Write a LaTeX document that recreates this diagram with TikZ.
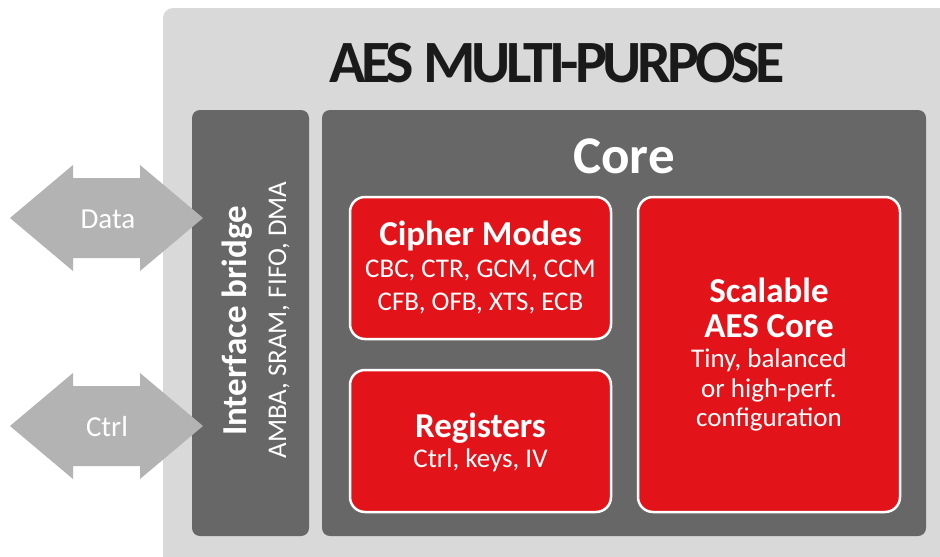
\documentclass[tikz,border=0pt]{standalone}
\usepackage{fontspec}
\setmainfont{Carlito}
\newfontfamily\titlefont[LetterSpace=-7]{Carlito}
\definecolor{lightpanel}{HTML}{D9D9D9}
\definecolor{darkpanel}{HTML}{676767}
\definecolor{aesred}{HTML}{E2141A}
\definecolor{arrowgray}{HTML}{B3B3B3}
\definecolor{titleink}{HTML}{1A1A1A}
\begin{document}
\begin{tikzpicture}[x=1pt,y=-1pt,
  darkbox/.style={fill=darkpanel, rounded corners=8pt, inner sep=0pt},
  redbox/.style={fill=aesred, draw=white, line width=2.5pt, rounded corners=15pt, inner sep=0pt},
  boldtxt/.style={text=white, font=\fontsize{35}{40}\selectfont\bfseries, anchor=base, inner sep=0pt},
  regtxt/.style={text=white, font=\fontsize{27}{32}\selectfont, anchor=base, inner sep=0pt},
  iobody/.style={fill=arrowgray}]
\clip (0,0) rectangle (940,557);
\fill[white] (0,0) rectangle (940,557);
\fill[lightpanel, rounded corners=10pt] (163,8) rectangle (970,590);
\node[text=titleink, font=\fontsize{60}{66}\selectfont\titlefont\bfseries, anchor=base, inner sep=0pt] (title) at (557,82) {AES MULTI-PURPOSE};
% interface bridge
\node[darkbox, minimum width=117pt, minimum height=426pt] (bridge) at (250.5,323) {};
\node[boldtxt, rotate=90] (bridgeT) at (246,321) {Interface bridge};
\node[regtxt, rotate=90] (bridgeS) at (286,320) {AMBA, SRAM, FIFO, DMA};
% core
\node[darkbox, minimum width=604pt, minimum height=426pt] (core) at (624,323) {};
\node[text=white, font=\fontsize{53}{60}\selectfont\bfseries, anchor=base, inner sep=0pt] (coreT) at (624,173) {Core};
% cipher modes
\node[redbox, minimum width=261pt, minimum height=142pt] (cipher) at (480.5,268) {};
\node[boldtxt] (cipherT) at (480.5,245) {Cipher Modes};
\node[regtxt] (cipherA) at (480.5,277) {CBC, CTR, GCM, CCM};
\node[regtxt] (cipherB) at (480.5,310) {CFB, OFB, XTS, ECB};
% registers
\node[redbox, minimum width=261pt, minimum height=142pt] (regs) at (480.5,441) {};
\node[boldtxt] (regsT) at (480.5,437) {Registers};
\node[regtxt] (regsS) at (480.5,467) {Ctrl, keys, IV};
% scalable core
\node[redbox, minimum width=262pt, minimum height=315pt] (scal) at (769,354.5) {};
\node[boldtxt] (scalT) at (769,302) {Scalable};
\node[boldtxt] (scalU) at (769,337) {AES Core};
\node[regtxt] (scalA) at (769,367) {Tiny, balanced};
\node[regtxt] (scalB) at (769,397) {or high-perf.};
\node[regtxt] (scalC) at (769,426) {configuration};
% data / ctrl double arrows
\fill[iobody] (10,218) -- (73,165) -- (73,178) -- (140,178) -- (140,165) -- (203,218)
  -- (140,271) -- (140,258) -- (73,258) -- (73,271) -- cycle;
\node[text=white, font=\fontsize{29}{34}\selectfont, anchor=base, inner sep=0pt] (data) at (108,228) {Data};
\fill[iobody] (10,426) -- (73,373) -- (73,386) -- (140,386) -- (140,373) -- (203,426)
  -- (140,479) -- (140,466) -- (73,466) -- (73,479) -- cycle;
\node[text=white, font=\fontsize{29}{34}\selectfont, anchor=base, inner sep=0pt] (ctrl) at (107,436) {Ctrl};
\end{tikzpicture}
\end{document}
